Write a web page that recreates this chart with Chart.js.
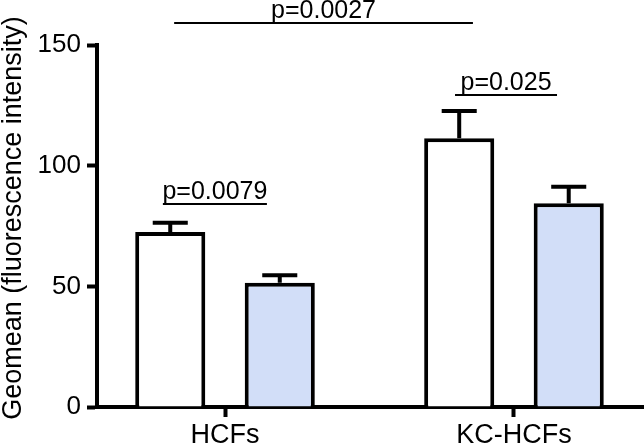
<!DOCTYPE html>
<html lang="en">
<head>
  <meta charset="UTF-8">
  <title>Geomean HCFs</title>
  <script src="https://cdn.jsdelivr.net/npm/chart.js"></script>
  <style>
    body {
      margin: 0;
      background: #fff;
    }

    .chart-box {
      width: 644px;
      height: 447px;
      position: relative;
    }
  </style>
</head>
<body>
  <div class="chart-box">
    <canvas id="graficoGeomean"></canvas>
  </div>

  <script>
    // valores
    const categories = ['HCFs', 'KC-HCFs'];
    const whiteMeans = [72.5, 111.4];
    const whiteErrTop = [76.3, 122.7];
    const blueMeans = [51.5, 84.4];
    const blueErrTop = [54.6, 91.3];
    const yTicks = [0, 50, 100, 150];
    const yTitle = 'Geomean (fluorescence intensity)';

    // comparacoes (p) : texto, inicio/fim em unidades do eixo x, altura em unidades do eixo y
    const pTexts = ['p=0.0079', 'p=0.025', 'p=0.0027'];
    const pStart = [-0.215, 0.796, -0.176];
    const pEnd = [0.145, 1.149, 0.858];
    const pLevel = [84.1, 129.3, 159.1];

    const fonte = "'Liberation Sans', Arial, sans-serif";

    const errorBars = {
      id: 'errorBars',
      afterDatasetsDraw(chart) {
        const ctx = chart.ctx;
        const y = chart.scales.y;
        const tops = [whiteErrTop, blueErrTop];
        ctx.save();
        ctx.strokeStyle = '#000';
        ctx.lineWidth = 4;
        chart.data.datasets.forEach((ds, d) => {
          chart.getDatasetMeta(d).data.forEach((bar, i) => {
            const yt = y.getPixelForValue(tops[d][i]);
            const half = bar.width * 0.25;
            ctx.beginPath();
            ctx.moveTo(bar.x, bar.y);
            ctx.lineTo(bar.x, yt);
            ctx.moveTo(bar.x - half, yt);
            ctx.lineTo(bar.x + half, yt);
            ctx.stroke();
          });
        });
        ctx.restore();
      }
    };

    const textos = {
      id: 'textos',
      afterDraw(chart) {
        const ctx = chart.ctx;
        const x = chart.scales.x;
        const y = chart.scales.y;
        const area = chart.chartArea;
        ctx.save();
        ctx.strokeStyle = '#000';
        ctx.fillStyle = '#000';
        ctx.lineWidth = 2;
        ctx.font = '25px ' + fonte;
        ctx.textAlign = 'center';
        ctx.textBaseline = 'alphabetic';
        pTexts.forEach((t, i) => {
          const x1 = x.getPixelForValue(pStart[i]);
          const x2 = x.getPixelForValue(pEnd[i]);
          const yl = y.getPixelForValue(pLevel[i]);
          ctx.beginPath();
          ctx.moveTo(x1, yl);
          ctx.lineTo(x2, yl);
          ctx.stroke();
          ctx.fillText(t, (x1 + x2) / 2, yl - 5);
        });
        // titulo do eixo y
        ctx.font = '27px ' + fonte;
        ctx.textBaseline = 'middle';
        ctx.translate(14, (area.top + area.bottom) / 2 - 8);
        ctx.rotate(-Math.PI / 2);
        ctx.fillText(yTitle, 0, 0);
        ctx.restore();
      }
    };

    new Chart(document.getElementById('graficoGeomean'), {
      type: 'bar',
      data: {
        datasets: [{
          data: categories.map((c, i) => ({ x: i, y: whiteMeans[i] })),
          backgroundColor: '#ffffff',
          borderColor: '#000',
          borderWidth: 4,
          borderSkipped: 'start'
        }, {
          data: categories.map((c, i) => ({ x: i, y: blueMeans[i] })),
          backgroundColor: 'rgb(210, 222, 248)',
          borderColor: '#000',
          borderWidth: 4,
          borderSkipped: 'start'
        }]
      },
      plugins: [errorBars, textos],
      options: {
        responsive: true,
        maintainAspectRatio: false,
        animation: false,
        categoryPercentage: 0.758,
        barPercentage: 0.64,
        layout: { padding: { top: 45, left: 0, right: 0, bottom: 0 } },
        plugins: {
          legend: { display: false },
          tooltip: { enabled: false }
        },
        scales: {
          x: {
            type: 'linear',
            min: -0.443,
            max: 1.45,
            offset: false,
            z: 1,
            afterBuildTicks: s => { s.ticks = categories.map((c, i) => ({ value: i })); },
            afterFit: s => { s.height = 40; },
            grid: { display: true, drawOnChartArea: false, offset: false, tickLength: 10, tickWidth: 4, tickColor: '#000' },
            border: { display: true, width: 4, color: '#000' },
            ticks: {
              color: '#000',
              padding: 2,
              font: { size: 27, family: fonte },
              maxRotation: 0,
              callback: v => categories[v]
            }
          },
          y: {
            min: 0,
            max: 150,
            afterBuildTicks: s => { s.ticks = yTicks.map(v => ({ value: v })); },
            afterFit: s => { s.width = 97; },
            grid: { display: true, drawOnChartArea: false, tickLength: 10, tickWidth: 4, tickColor: '#000' },
            border: { display: true, width: 4, color: '#000' },
            ticks: {
              color: '#000',
              padding: 6,
              font: { size: 26, family: fonte }
            }
          }
        }
      }
    });
  </script>
</body>
</html>
